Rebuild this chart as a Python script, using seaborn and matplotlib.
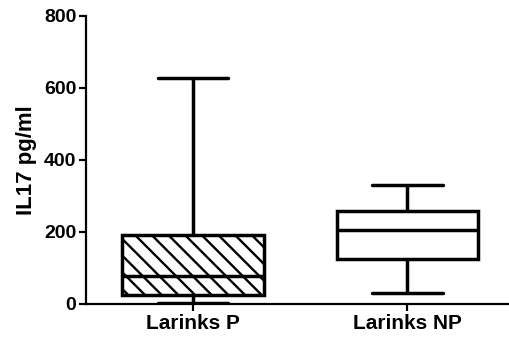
import numpy as np
import pandas as pd
import matplotlib
matplotlib.use("Agg")
import matplotlib.pyplot as plt
from matplotlib import font_manager
import seaborn as sns

sns.set_style("ticks")

# make sure the regular-width Liberation Sans Bold is used (not Narrow)
for path in font_manager.findSystemFonts():
    name = path.split("/")[-1]
    if name.startswith("LiberationSans-") and "Narrow" not in name:
        font_manager.fontManager.addfont(path)
plt.rcParams["font.family"] = ["Liberation Sans", "DejaVu Sans"]
plt.rcParams["font.weight"] = "bold"
plt.rcParams["hatch.linewidth"] = 1.7
plt.rcParams["text.color"] = "black"
plt.rcParams["axes.labelcolor"] = "black"

# five-number summaries (min, Q1, median, Q3, max)
groups = ["Larinks P", "Larinks NP"]
larinks_p = [4, 25, 78, 193, 628]
larinks_np = [31, 126, 205, 257, 330]

df = pd.DataFrame({
    "group": [groups[0]] * len(larinks_p) + [groups[1]] * len(larinks_np),
    "il17": larinks_p + larinks_np,
})

fig = plt.figure(figsize=(5.1, 3.41), dpi=100)
ax = fig.add_axes([86 / 510, 37 / 341, 1 - 86 / 510, 288 / 341])

sns.boxplot(data=df, x="group", y="il17", order=groups, whis=(0, 100),
            width=0.66, color="white", linecolor="black", linewidth=2.5,
            showfliers=False, ax=ax)

# hatch the first box
ax.patches[0].set_hatch("\\\\")

ax.set_xlim(-0.5, 1.48)
ax.set_ylim(0, 800)
ax.set_yticks([0, 200, 400, 600, 800])
ax.set_xlabel("")
ax.set_ylabel("IL17 pg/ml", fontsize=16, fontweight="bold", labelpad=5, color="black")
ax.tick_params(axis="both", direction="out", length=5, width=1.6, colors="black")
ax.tick_params(axis="y", labelsize=14, pad=2)
ax.tick_params(axis="x", labelsize=15, pad=2)
for lab in ax.get_xticklabels() + ax.get_yticklabels():
    lab.set_fontweight("bold")

sns.despine(ax=ax)
for s in ["left", "bottom"]:
    ax.spines[s].set_linewidth(1.6)
    ax.spines[s].set_color("black")

fig.savefig("out.png", dpi=100)
